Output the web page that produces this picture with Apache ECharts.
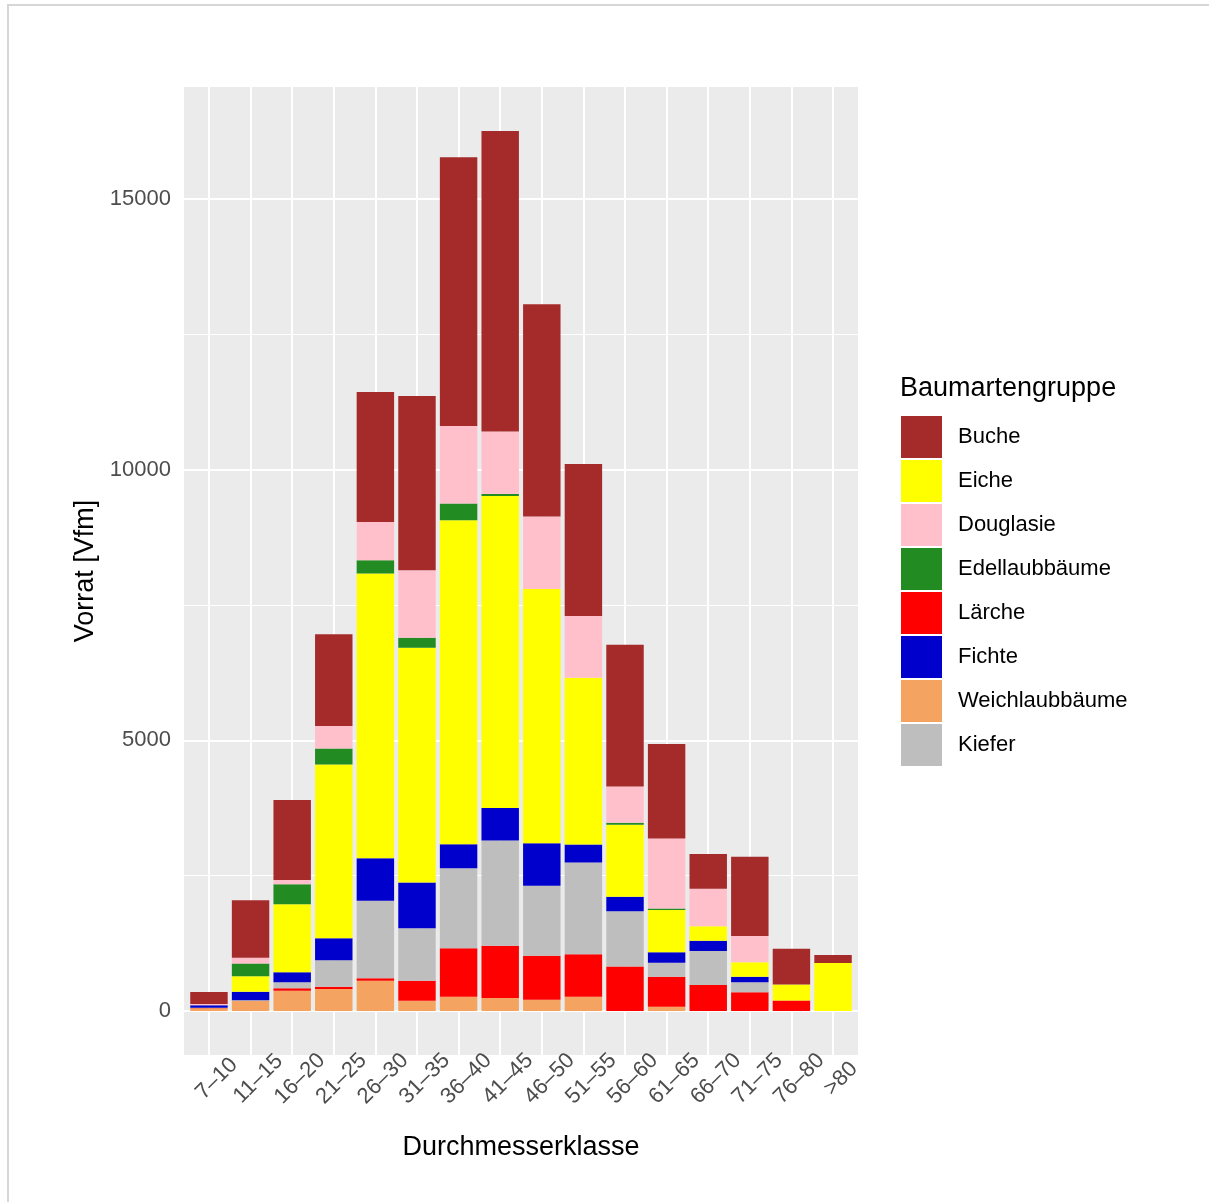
<!DOCTYPE html>
<html>
<head>
<meta charset="utf-8">
<script src="https://cdn.jsdelivr.net/npm/echarts@6/dist/echarts.min.js"></script>
<style>
  html, body { margin: 0; padding: 0; background: #fff; }
  #frame { position: absolute; left: 7px; top: 4px; width: 1220px; height: 1220px; border-top: 2px solid #d6d6d6; border-left: 2px solid #d6d6d6; box-sizing: border-box; }
  #chart { position: absolute; left: 0; top: 0; width: 1209px; height: 1202px; }
</style>
</head>
<body>
<div id="frame"></div>
<div id="chart"></div>
<script>
// Categories (Durchmesserklasse)
const categories = ["7–10","11–15","16–20","21–25","26–30","31–35","36–40","41–45","46–50","51–55","56–60","61–65","66–70","71–75","76–80",">80"];

// Vorrat [Vfm] per Baumartengruppe
const buche          = [222, 1064, 1478, 1699, 2401, 3219, 4963, 5554, 3925, 2807, 2623, 1742, 641, 1465, 659, 148];
const eiche          = [0, 288, 1256, 3214, 5264, 4337, 5990, 5768, 4697, 3077, 1330, 781, 266, 266, 296, 886];
const douglasie      = [25, 105, 80, 412, 707, 1250, 1433, 1151, 1339, 1145, 670, 1293, 694, 486, 0, 0];
const edellaubbaeume = [0, 234, 369, 296, 246, 185, 308, 37, 0, 0, 37, 31, 0, 0, 0, 0];
const laerche        = [5, 0, 44, 42, 44, 369, 894, 966, 813, 783, 822, 554, 480, 345, 195, 0];
const fichte         = [45, 155, 185, 406, 783, 846, 443, 598, 783, 332, 266, 192, 190, 103, 0, 0];
const weichlaub      = [50, 190, 375, 406, 560, 190, 264, 240, 210, 264, 0, 79, 0, 0, 0, 0];
const kiefer         = [5, 10, 111, 488, 1433, 968, 1478, 1945, 1293, 1699, 1021, 259, 628, 185, 0, 0];

// Y tick labels
const yTicks = [0, 5000, 10000, 15000];
const yMinor = [2500, 7500, 12500];

const legendOrder = ["Buche","Eiche","Douglasie","Edellaubbäume","Lärche","Fichte","Weichlaubbäume","Kiefer"];

// stacking order: bottom first
const groups = [
  { name: "Weichlaubbäume", data: weichlaub,      color: "#F4A460" },
  { name: "Lärche",         data: laerche,        color: "#FF0000" },
  { name: "Kiefer",         data: kiefer,         color: "#BEBEBE" },
  { name: "Fichte",         data: fichte,         color: "#0000CD" },
  { name: "Eiche",          data: eiche,          color: "#FFFF00" },
  { name: "Edellaubbäume",  data: edellaubbaeume, color: "#228B22" },
  { name: "Douglasie",      data: douglasie,      color: "#FFC0CB" },
  { name: "Buche",          data: buche,          color: "#A52A2A" }
];

// ggplot-like 5% expansion of the y range
const totals = categories.map((c, i) => groups.reduce((s, g) => s + g.data[i], 0));
const yMaxData = Math.max(...totals);
const yPad = yMaxData * 0.05;
const yMin = -yPad, yMax = yMaxData + yPad;
const xIdx = categories.map((c, i) => i);

const FONT = "'Liberation Sans', Arial, Helvetica, sans-serif";

// panel geometry (ggplot discrete expansion of 0.6 units each side)
const W = 1209, H = 1202;
const pLeft = 184, pRight = 858, pTop = 87, pBottom = 1055;
const unit = (pRight - pLeft) / (categories.length + 0.2);
const barLeft = pLeft + 0.1 * unit;
const barRight = barLeft + categories.length * unit;

const gridLines = [];
yTicks.forEach(v => gridLines.push({ yAxis: v, lineStyle: { width: 2 } }));
yMinor.forEach(v => gridLines.push({ yAxis: v, lineStyle: { width: 1 } }));
xIdx.forEach(v => gridLines.push({ xAxis: v, lineStyle: { width: 2 } }));

const series = [{
  name: '__grid',
  type: 'line',
  xAxisIndex: 0, yAxisIndex: 0,
  data: [],
  silent: true,
  markLine: {
    silent: true,
    symbol: ['none', 'none'],
    label: { show: false },
    z: 1,
    animation: false,
    lineStyle: { color: '#FFFFFF', type: 'solid' },
    data: gridLines
  }
}];
groups.forEach(g => {
  series.push({
    name: g.name,
    type: 'bar',
    stack: 'total',
    xAxisIndex: 1, yAxisIndex: 1,
    barWidth: '90%',
    itemStyle: { color: g.color },
    data: g.data,
    z: 2
  });
});

const chart = echarts.init(document.getElementById('chart'), null, { renderer: 'canvas' });
chart.setOption({
  animation: false,
  textStyle: { fontFamily: FONT },
  title: {
    text: 'Baumartengruppe',
    left: 900, top: 375,
    padding: 0,
    textStyle: { fontFamily: FONT, fontSize: 27, fontWeight: 'normal', color: '#000' }
  },
  legend: {
    data: legendOrder,
    orient: 'vertical',
    left: 901, top: 416,
    padding: 0,
    itemWidth: 41, itemHeight: 42, itemGap: 2,
    icon: 'rect',
    selectedMode: false,
    textStyle: { fontFamily: FONT, fontSize: 22, color: '#000', padding: [3, 0, 0, 11] }
  },
  grid: [
    { left: pLeft, right: W - pRight, top: pTop, bottom: H - pBottom,
      show: true, backgroundColor: '#EBEBEB', borderWidth: 0, z: 0 },
    { left: barLeft, right: W - barRight, top: pTop, bottom: H - pBottom,
      show: false, z: 0 }
  ],
  xAxis: [{
    gridIndex: 0,
    type: 'value',
    min: -0.6, max: categories.length - 1 + 0.6,
    name: 'Durchmesserklasse',
    nameLocation: 'middle',
    nameGap: 79,
    nameTextStyle: { fontFamily: FONT, fontSize: 27, color: '#000' },
    axisLine: { show: false },
    splitLine: { show: false },
    axisTick: { show: true, length: 7, customValues: xIdx, lineStyle: { color: '#333333', width: 1.5 } },
    axisLabel: {
      customValues: xIdx,
      formatter: v => categories[Math.round(v)],
      rotate: 45,
      align: 'center',
      verticalAlign: 'top',
      margin: 16,
      fontFamily: FONT, fontSize: 22, color: '#4D4D4D'
    }
  }, {
    gridIndex: 1,
    type: 'category',
    data: categories,
    boundaryGap: true,
    show: false,
    axisLine: { show: false }, axisTick: { show: false }, axisLabel: { show: false }, splitLine: { show: false }
  }],
  yAxis: [{
    gridIndex: 0,
    type: 'value',
    min: yMin, max: yMax,
    name: 'Vorrat [Vfm]',
    nameLocation: 'middle',
    nameGap: 78,
    nameTextStyle: { fontFamily: FONT, fontSize: 27, color: '#000' },
    axisLine: { show: false },
    splitLine: { show: false },
    axisTick: { show: true, length: 7, customValues: yTicks, lineStyle: { color: '#333333', width: 1.5 } },
    axisLabel: {
      customValues: yTicks,
      formatter: v => String(v),
      margin: 13,
      fontFamily: FONT, fontSize: 22, color: '#4D4D4D'
    }
  }, {
    gridIndex: 1,
    type: 'value',
    min: yMin, max: yMax,
    show: false,
    axisLine: { show: false }, axisTick: { show: false }, axisLabel: { show: false }, splitLine: { show: false }
  }],
  series: series
});
</script>
</body>
</html>
